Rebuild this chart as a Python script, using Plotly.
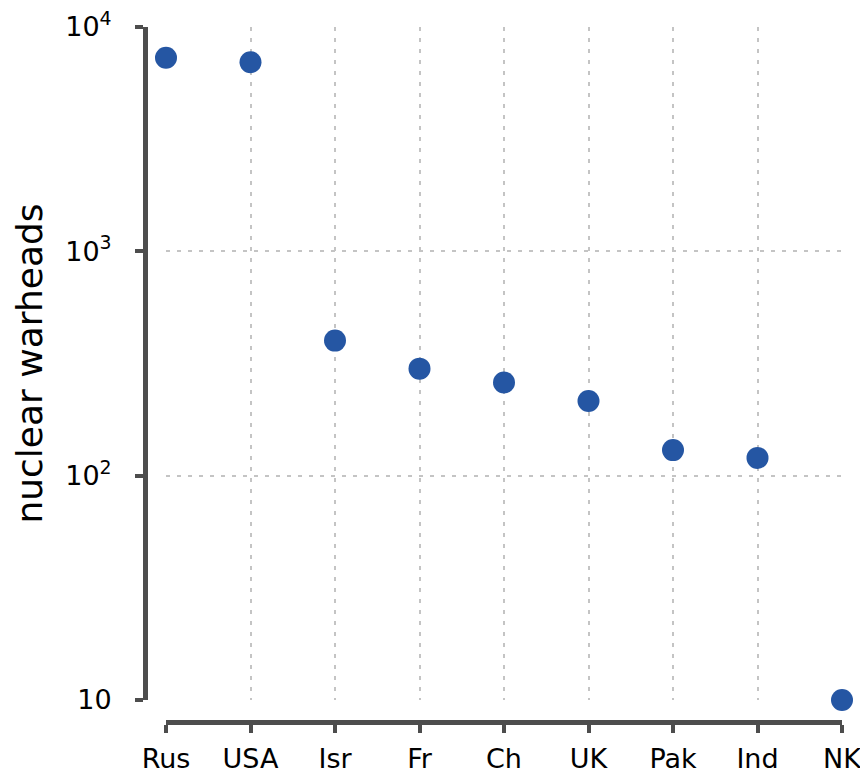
import plotly.graph_objects as go

countries = ["Rus", "USA", "Isr", "Fr", "Ch", "UK", "Pak", "Ind", "NK"]
warheads = [7300, 6970, 400, 300, 260, 215, 130, 120, 10]
y_tick_vals = [10, 100, 1000, 10000]
y_tick_text = ["10", "10<sup>2</sup>", "10<sup>3</sup>", "10<sup>4</sup>"]

# page has an 8px body margin; figure sized to fit the window
OFF = 8
W, H = 868 - 2 * OFF, 776 - 2 * OFF
# paper area in page pixels, converted to figure pixels
pl, pr, pt, pb = 100 - OFF, 842 - OFF, 27 - OFF, 740 - OFF
plot_left, plot_bottom = 166 - OFF, 700 - OFF
yaxis_x = 145 - OFF
xaxis_y = 722 - OFF
pw, ph = pr - pl, pb - pt

spine = "#4d4d4d"
font = "DejaVu Sans, sans-serif"

fig = go.Figure(go.Scatter(
    x=countries, y=warheads, mode="markers",
    marker=dict(size=22, color="#2556a3"),
    cliponaxis=False,
))

fig.update_layout(
    width=W, height=H,
    margin=dict(l=pl, r=W - pr, t=pt, b=H - pb, pad=0),
    plot_bgcolor="white", paper_bgcolor="white",
    showlegend=False,
    font=dict(family=font, size=27, color="black"),
    xaxis=dict(
        type="category", range=[0, 8],
        domain=[(plot_left - pl) / pw, 1],
        anchor="free", position=(pb - xaxis_y) / ph,
        showline=True, linecolor=spine, linewidth=5,
        ticks="outside", ticklen=8, tickwidth=4, tickcolor=spine,
        showgrid=True, gridcolor="#c4c4c4", gridwidth=1.5, griddash="4px,7px",
        zeroline=False, automargin=False,
        tickfont=dict(size=27, family=font),
        ticklabelstandoff=3, ticklabeloverflow="allow",
    ),
    yaxis=dict(
        type="log", range=[1, 4],
        domain=[(pb - plot_bottom) / ph, 1],
        anchor="free", position=(yaxis_x - pl) / pw,
        showline=True, linecolor=spine, linewidth=5,
        ticks="outside", ticklen=8, tickwidth=4, tickcolor=spine,
        tickvals=y_tick_vals, ticktext=y_tick_text,
        showgrid=True, gridcolor="#c4c4c4", gridwidth=1.5, griddash="4px,7px",
        zeroline=False, automargin=False,
        tickfont=dict(size=27, family=font),
        ticklabelstandoff=18, ticklabeloverflow="allow",
        title=dict(text="nuclear warheads", font=dict(size=36, family=font), standoff=10),
    ),
)

fig.write_html("out.html")
